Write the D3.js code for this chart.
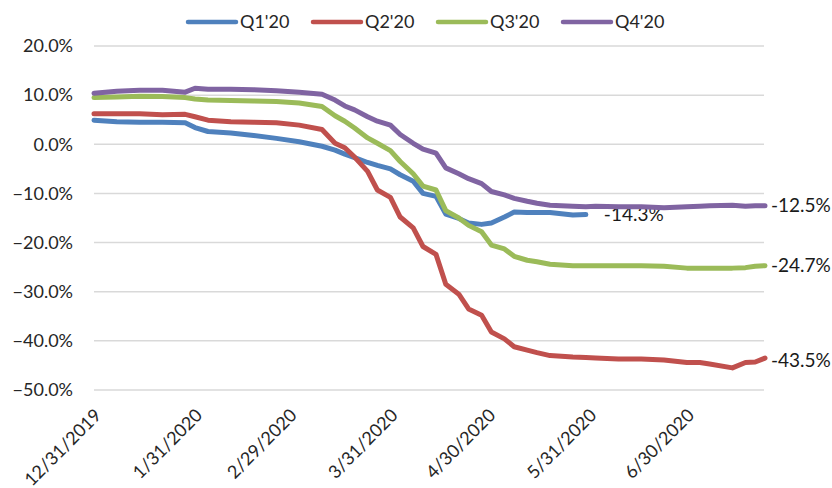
<!DOCTYPE html>
<html>
<head>
<meta charset="utf-8">
<script src="https://cdn.jsdelivr.net/npm/d3@7"></script>
<style>
  body { margin: 0; background: #fff; }
  svg text { font-family: Lato, "Open Sans", sans-serif; }
</style>
</head>
<body>
<div id="chart"></div>
<script>
// sample dates (trading-day readings, uneven spacing)
var dates = [
  "2019-12-31","2020-01-07","2020-01-14","2020-01-21","2020-01-28","2020-01-31",
  "2020-02-04","2020-02-11","2020-02-18","2020-02-25","2020-03-03","2020-03-10",
  "2020-03-14","2020-03-17","2020-03-20","2020-03-24","2020-03-27","2020-03-31",
  "2020-04-03","2020-04-07","2020-04-10","2020-04-14","2020-04-17","2020-04-21",
  "2020-04-24","2020-04-28","2020-05-01","2020-05-05","2020-05-08","2020-05-12",
  "2020-05-15","2020-05-19","2020-05-26","2020-05-30","2020-06-02","2020-06-09",
  "2020-06-16","2020-06-23","2020-06-30","2020-07-04","2020-07-07","2020-07-14",
  "2020-07-18","2020-07-21","2020-07-24"
];

var q1 = [4.9,4.6,4.5,4.5,4.4,3.4, 2.6,2.3,1.8,1.2,0.5,-0.4,
  -1.2,-2.0,-2.7,-3.7,-4.3,-5.0, -6.2,-7.5,-10.0,-10.6,-14.2,-15.1,
  -16.0,-16.3,-16.0,-14.8,-13.8,-13.9, -13.9,-13.9,-14.4,-14.3,null,null,
  null,null,null,null,null,null, null,null,null];

var q2 = [6.2,6.2,6.2,6.0,6.1,5.6, 4.9,4.6,4.5,4.4,3.9,3.0,
  0.2,-0.7,-2.6,-5.5,-9.3,-10.8, -14.8,-17.0,-20.8,-22.4,-28.5,-30.5,
  -33.5,-34.8,-38.2,-39.6,-41.2,-41.9, -42.4,-43.0,-43.3,-43.4,-43.5,-43.7,
  -43.7,-43.9,-44.4,-44.4,-44.7,-45.5, -44.4,-44.3,-43.5];

var q3 = [9.5,9.6,9.75,9.7,9.5,9.2, 9.0,8.9,8.8,8.7,8.4,7.7,
  5.8,4.7,3.3,1.3,0.2,-1.3, -3.5,-6.0,-8.5,-9.3,-13.5,-15.0,
  -16.5,-17.8,-20.5,-21.3,-22.8,-23.6, -23.9,-24.4,-24.7,-24.7,-24.7,-24.7,
  -24.7,-24.8,-25.2,-25.2,-25.2,-25.2, -25.1,-24.8,-24.7];

var q4 = [10.4,10.8,11.0,11.0,10.6,11.4, 11.2,11.2,11.1,10.9,10.6,10.2,
  9.0,7.8,7.0,5.6,4.7,3.9, 2.0,0.2,-1.0,-1.8,-4.8,-6.0,
  -7.0,-8.0,-9.6,-10.3,-11.0,-11.6, -12.0,-12.4,-12.6,-12.7,-12.6,-12.7,
  -12.7,-12.9,-12.7,-12.6,-12.5,-12.4, -12.6,-12.5,-12.5];

var seriesNames = ["Q1'20", "Q2'20", "Q3'20", "Q4'20"];
var endLabels = ["-14.3%", "-43.5%", "-24.7%", "-12.5%"];
var yTicks = [20, 10, 0, -10, -20, -30, -40, -50];
var xTickDates = ["2019-12-31","2020-01-31","2020-02-29","2020-03-31","2020-04-30","2020-05-31","2020-06-30"];

var colors = ["#4F81BD", "#C0504D", "#9BBB59", "#8064A2"];
var allValues = [q1, q2, q3, q4];

var width = 832, height = 488;
var parse = d3.timeParse("%Y-%m-%d");
var fmtDate = d3.timeFormat("%-m/%-d/%Y");

var svg = d3.select("#chart").append("svg")
  .attr("width", width)
  .attr("height", height);

var x = d3.scaleTime()
  .domain([parse("2019-12-31"), parse("2020-07-24")])
  .range([94, 765]);

var y = d3.scaleLinear()
  .domain([-50, 20])
  .range([390, 46]);

// gridlines
svg.append("g").selectAll("line").data(yTicks).enter()
  .append("line")
  .attr("x1", 94)
  .attr("x2", 764)
  .attr("y1", function(d) { return y(d); })
  .attr("y2", function(d) { return y(d); })
  .attr("stroke", "#d9d9d9")
  .attr("stroke-width", 1.5);

// y labels
svg.append("g").selectAll("text").data(yTicks).enter()
  .append("text")
  .attr("x", 73)
  .attr("y", function(d) { return y(d); })
  .attr("dy", "0.35em")
  .attr("text-anchor", "end")
  .attr("font-size", 18)
  .attr("fill", "#262626")
  .text(function(d) { return d3.format(".1f")(d) + "%"; });

// x labels, rotated
svg.append("g").selectAll("text").data(xTickDates).enter()
  .append("text")
  .attr("transform", function(d) {
    return "translate(" + (x(parse(d)) + 4) + ",412) rotate(-45)";
  })
  .attr("dy", "0.35em")
  .attr("text-anchor", "end")
  .attr("font-size", 18)
  .attr("fill", "#262626")
  .text(function(d) { return fmtDate(parse(d)); });

// lines
var line = d3.line()
  .defined(function(d) { return d.v !== null; })
  .x(function(d) { return x(d.date); })
  .y(function(d) { return y(d.v); });

allValues.forEach(function(vals, i) {
  var pts = dates.map(function(d, j) { return { date: parse(d), v: vals[j] }; });
  svg.append("path")
    .datum(pts)
    .attr("d", line)
    .attr("fill", "none")
    .attr("stroke", colors[i])
    .attr("stroke-width", 5)
    .attr("stroke-linejoin", "round")
    .attr("stroke-linecap", "round");

  var last = pts.filter(function(p) { return p.v !== null; }).pop();
  svg.append("text")
    .attr("x", i === 0 ? x(last.date) + 18 : 771)
    .attr("y", y(last.v) + (i === 1 ? 2 : 0))
    .attr("dy", "0.35em")
    .attr("font-size", 19)
    .attr("fill", "#1a1a1a")
    .text(endLabels[i]);
});

// legend
var legend = svg.append("g").selectAll("g").data(seriesNames).enter()
  .append("g")
  .attr("transform", function(d, i) { return "translate(" + (188 + i * 125) + ",22)"; });

legend.append("line")
  .attr("x1", 0).attr("x2", 48)
  .attr("y1", 0).attr("y2", 0)
  .attr("stroke", function(d, i) { return colors[i]; })
  .attr("stroke-width", 4.5)
  .attr("stroke-linecap", "round");

legend.append("text")
  .attr("x", 52)
  .attr("dy", "0.35em")
  .attr("font-size", 18)
  .attr("fill", "#262626")
  .text(function(d) { return d; });
</script>
</body>
</html>
